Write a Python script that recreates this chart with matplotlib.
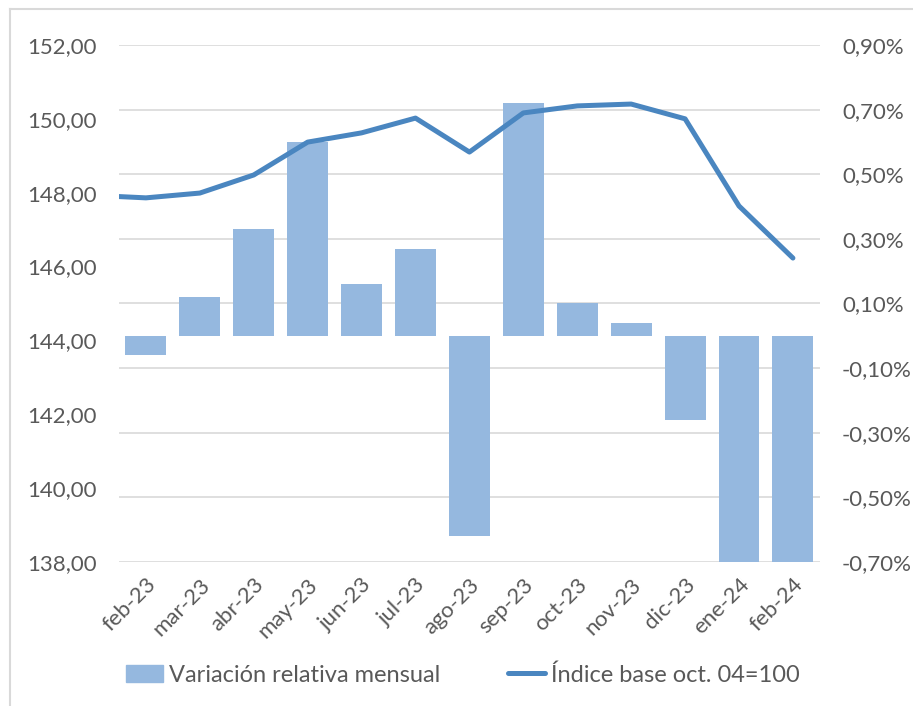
import matplotlib.pyplot as plt
import matplotlib.lines as mlines
import matplotlib.patches as mpatches
import numpy as np
from matplotlib.ticker import FuncFormatter

plt.rcParams["font.family"] = ["Lato", "DejaVu Sans"]

months = ["feb-23", "mar-23", "abr-23", "may-23", "jun-23", "jul-23", "ago-23",
          "sep-23", "oct-23", "nov-23", "dic-23", "ene-24", "feb-24"]
# variación relativa mensual (%)
variation = [-0.06, 0.12, 0.33, 0.60, 0.16, 0.27, -0.62, 0.72, 0.10, 0.04, -0.26, -0.70, -0.70]
# índice base oct. 04=100 (first value is the previous month, clipped at the axis edge)
index_prev = 147.93
index_values = [147.86, 147.99, 148.48, 149.37, 149.62, 150.02, 149.10,
                150.16, 150.35, 150.40, 150.00, 147.64, 146.23]

bar_color = "#95B8DF"
line_color = "#4A86C0"
text_color = "#595959"
grid_color = "#D9D9D9"

fig = plt.figure(figsize=(9.13, 7.06), dpi=100)
ax = fig.add_axes([0.1303, 0.204, 0.7677, 0.7323])
ax2 = ax.twinx()

x = np.arange(len(months))

# bars on the secondary (right) axis, drawn behind the line
ax2.bar(x, np.array(variation) / 100, width=0.76, color=bar_color, zorder=2)
ax2.set_ylim(-0.007, 0.009)
ax2.set_yticks(np.arange(-0.007, 0.0091, 0.002))
ax2.yaxis.set_major_formatter(FuncFormatter(lambda v, _: f"{v * 100:.2f}%".replace(".", ",")))
ax2.grid(axis="y", color=grid_color, linewidth=1.2, zorder=0)
ax2.set_axisbelow(True)

# line on the primary (left) axis
xl = np.concatenate([[-1], x])
yl = [index_prev] + index_values
ax.plot(xl, yl, color=line_color, linewidth=3.6, solid_capstyle="round", zorder=3)
ax.set_ylim(138, 152)
ax.set_yticks(np.arange(138, 152.1, 2))
ax.yaxis.set_major_formatter(FuncFormatter(lambda v, _: f"{v:.2f}".replace(".", ",")))
ax.set_xlim(-0.5, len(months) - 0.5)
ax.set_xticks(x)
ax.set_xticklabels(months, rotation=45, ha="right", rotation_mode="anchor")

ax.set_zorder(ax2.get_zorder() + 1)
ax.patch.set_visible(False)

for a in (ax, ax2):
    for s in a.spines.values():
        s.set_visible(False)
    a.tick_params(length=0, colors=text_color, labelsize=16)
ax.tick_params(axis="y", pad=16)
ax2.tick_params(axis="y", pad=16)
ax.tick_params(axis="x", pad=9)

handles = [
    mpatches.Patch(color=bar_color, label="Variación relativa mensual"),
    mlines.Line2D([], [], color=line_color, linewidth=3.6, solid_capstyle="round",
                  label="Índice base oct. 04=100"),
]
fig.legend(handles=handles, loc="center", bbox_to_anchor=(0.507, 0.044), ncol=2,
           frameon=False, fontsize=17, labelcolor=text_color, handlelength=1.55,
           handletextpad=0.25, columnspacing=2.9)

# chart area border (left and top visible in the reference)
fig.add_artist(mlines.Line2D([0.0115, 0.0115], [0.0, 0.987], color=grid_color, linewidth=1.5))
fig.add_artist(mlines.Line2D([0.0115, 1.0], [0.987, 0.987], color=grid_color, linewidth=1.5))

fig.savefig("out.png", dpi=100)
